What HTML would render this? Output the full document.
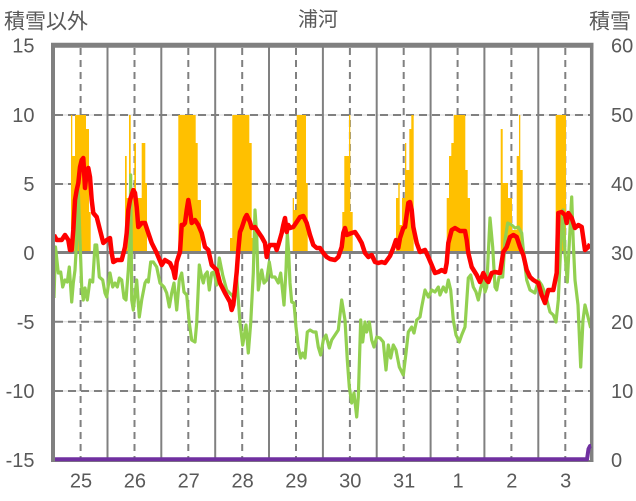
<!DOCTYPE html>
<html><head><meta charset="utf-8"><style>
html,body{margin:0;padding:0;background:#fff;}
svg{display:block;}
text{font-family:"Liberation Sans","Noto Sans CJK JP",sans-serif;fill:#595959;}
</style></head><body>
<svg width="636" height="501" viewBox="0 0 636 501" xmlns="http://www.w3.org/2000/svg">
<rect width="636" height="501" fill="#fff"/>
<!-- titles -->
<text x="4" y="28.5" font-size="21">積雪以外</text>
<text x="318" y="26" font-size="20" text-anchor="middle">浦河</text>
<text x="589" y="28.5" font-size="21">積雪</text>
<!-- left labels -->
<g font-size="20" text-anchor="end">
<text x="34.5" y="52.7">15</text>
<text x="34.5" y="122">10</text>
<text x="34.5" y="191">5</text>
<text x="34.5" y="260">0</text>
<text x="34.5" y="329">-5</text>
<text x="34.5" y="398">-10</text>
<text x="34.5" y="467">-15</text>
</g>
<g font-size="20">
<text x="611" y="52.7">60</text>
<text x="611" y="122">50</text>
<text x="611" y="191">40</text>
<text x="611" y="260">30</text>
<text x="611" y="329">20</text>
<text x="611" y="398">10</text>
<text x="611" y="467">0</text>
</g>
<g font-size="20" text-anchor="middle">
<text x="81" y="487.5">25</text>
<text x="134.9" y="487.5">26</text>
<text x="188.7" y="487.5">27</text>
<text x="242.6" y="487.5">28</text>
<text x="296.4" y="487.5">29</text>
<text x="350.3" y="487.5">30</text>
<text x="404.1" y="487.5">31</text>
<text x="458" y="487.5">1</text>
<text x="511.8" y="487.5">2</text>
<text x="565.7" y="487.5">3</text>
</g>
<!-- horizontal grid -->
<g stroke="#d9d9d9" stroke-width="1">
<line x1="55" y1="115" x2="590" y2="115"/>
<line x1="55" y1="184" x2="590" y2="184"/>
<line x1="55" y1="321.7" x2="590" y2="321.7"/>
<line x1="55" y1="391" x2="590" y2="391"/>
</g>
<g stroke="#808080" stroke-width="2" stroke-dasharray="8 5">
<line x1="55" y1="115" x2="590" y2="115"/>
<line x1="55" y1="184" x2="590" y2="184"/>
<line x1="55" y1="321.7" x2="590" y2="321.7"/>
<line x1="55" y1="391" x2="590" y2="391"/>
</g>
<!-- vertical grid -->
<g stroke="#808080" stroke-width="2">
<line x1="107.5" y1="47" x2="107.5" y2="460"/>
<line x1="161.3" y1="47" x2="161.3" y2="460"/>
<line x1="215.2" y1="47" x2="215.2" y2="460"/>
<line x1="269" y1="47" x2="269" y2="460"/>
<line x1="322.9" y1="47" x2="322.9" y2="460"/>
<line x1="376.7" y1="47" x2="376.7" y2="460"/>
<line x1="430.6" y1="47" x2="430.6" y2="460"/>
<line x1="484.4" y1="47" x2="484.4" y2="460"/>
<line x1="538.3" y1="47" x2="538.3" y2="460"/>
</g>
<g stroke="#808080" stroke-width="2" stroke-dasharray="7 5">
<line x1="80.6" y1="48" x2="80.6" y2="460"/>
<line x1="134.5" y1="48" x2="134.5" y2="460"/>
<line x1="188.3" y1="48" x2="188.3" y2="460"/>
<line x1="242.2" y1="48" x2="242.2" y2="460"/>
<line x1="296" y1="48" x2="296" y2="460"/>
<line x1="349.9" y1="48" x2="349.9" y2="460"/>
<line x1="403.7" y1="48" x2="403.7" y2="460"/>
<line x1="457.6" y1="48" x2="457.6" y2="460"/>
<line x1="511.4" y1="48" x2="511.4" y2="460"/>
<line x1="565.3" y1="48" x2="565.3" y2="460"/>
</g>
<!-- bars -->
<path fill="#FFC000" d="
M71,252V115H72.3V156H75V115H86V129H89V212H90.7V252Z
M125,252V156H126.7V198H129V115H130.7V198H134.3V143H136V198H141.7V143H145.3V183H147V252Z
M178.3,252V115H195.7V143H197.7V200H201V252Z
M230,252V238H232.3V115H249.3V143H251.7V238H253V252Z
M292.7,252V198H294V210H296.7V115H306V183H307.7V252Z
M342.3,252V212H344.3V156H349V115H350.3V212H352.7V252Z
M396,252V198H398.3V183H399.7V225H402V198H405V143H406.3V170H409.3V129H411.3V115H413.7V252Z
M446.7,252V198H449V156H451.3V143H453.7V115H465.3V170H467.7V198H470V252Z
M500.7,252V129H502.7V183H508V198H512V230H516.7V156H519V115H520.3V170H522.7V252Z
M555.7,252V115H566V252Z"/>
<!-- zero line -->
<line x1="55" y1="252.5" x2="590" y2="252.5" stroke="#808080" stroke-width="3"/>
<!-- green -->
<polyline fill="none" stroke="#92D050" stroke-width="3.2" stroke-linejoin="round" points="54,298 55.5,247 58.3,273 60.7,272 62.7,287 65,280 67.3,282 69.3,267 71.7,302 73.3,283 75,270 76.7,240 78.3,190 80,240 81.7,287 83.3,300 85,288 87.3,300 90,280 92.7,282 95,245 96.7,245 99.3,277 102.7,280 105,293 106.7,297 110,273 112.7,287 115,283 117.3,287 119.3,278 121.7,280 124,298 126,300 128.3,270 130,240 130.7,175 131.7,300 133.3,310 136.7,280 139.3,317 141.7,300 145,283 146.7,280 148.3,282 150.7,262 153.3,262 156.7,267 160,283 164,287 166.7,293 169.3,307 171.7,293 174,283 176.7,310 179.3,280 181.7,273 184,292 186.7,295 189.3,323 191.7,340 195,342 196.7,323 199.3,265 201.7,277 203.3,283 205,275 207.3,272 209.3,290 211.7,273 214,272 216.7,285 219.3,258 222.7,275 226.7,290 231.7,295 233.3,297 236.7,278 240,323 242.7,345 246,325 248.3,353 250.7,323 253.3,273 255,210 256.7,235 258.3,290 261.7,270 264,283 266.7,280 269.3,262 271.7,277 275,277 278.3,283 280.7,273 284,305 286,270 287.3,233 288.7,253 290,283 291.7,302 294,303 296,327 298.3,347 300.7,358 302.7,353 305,358 307.3,332 310,330 313.3,332 316,332 318.3,347 320.7,355 323.3,340 326,335 329.3,348 331.7,340 335,335 338.3,330 341.7,300 345,320 347.3,360 349.3,387 351.7,403 354,393 356.7,417 358.3,397 360.7,320 362.7,342 365,322 366.7,332 369.3,322 371.7,340 374,347 376.7,337 380,338 383.3,342 386,370 388.3,345 390.7,358 393.3,345 396,350 399.3,367 403.3,375 406,353 408.3,332 411.7,327 414,333 416.7,320 420,317 421.7,307 425,290 428.3,297 431.7,290 435,292 438.3,287 440,295 443.3,287 446,292 448.3,280 450.7,290 453.3,320 456,335 459.3,342 461.7,335 465,327 468.3,278 470.7,275 473.3,287 476,292 478.3,300 480.7,288 483.3,280 485,292 486.7,287 490,218 492.7,247 495,287 496.7,290 499,277 502.7,277 505,240 507.7,223 511.7,225 515,228 518.3,227 521.7,233 524,257 526.7,280 530,290 535,293 538.3,280 541.7,285 545,293 550,312 553.3,315 556,322 558.3,300 561,240 563,210 565,253 567.3,282 569.3,243 571.7,197 573.3,243 575,280 578,305 580.7,367 583,320 585,305 588,317 590.7,328"/>
<!-- red -->
<polyline fill="none" stroke="#FF0000" stroke-width="4.5" stroke-linejoin="round" points="54,235 56.7,240 61.7,240 65,235 68.3,240 70,250 71.7,250 73.3,230 75,200 76.7,190 78.3,183 80,167 81.7,160 83.3,158 85,188 86.7,172 88.3,168 90,177 91.7,200 93.3,213 96.7,217 100,230 103.3,243 106.7,240 110,238 111.7,253 113.3,262 116.7,260 121.7,260 125,247 126.7,233 128.3,210 130,200 133.3,190 135,193 136.7,207 138.3,227 141.7,223 145,223 148.3,233 151.7,243 156.7,253 161.7,265 165,260 170,263 173.3,270 175,278 176.7,262 178.3,257 180,252 181.7,225 183.3,225 185,223 186.7,210 188.3,200 190,210 191.7,223 195,220 198.3,225 201.7,233 205,247 208.3,250 211.7,265 216.7,270 220,283 225,293 230,302 231.7,310 233.3,305 236.7,272 238.3,250 240,232 241.7,228 245,218 246.7,215 250,222 251.7,228 255,227 258.3,232 261.7,237 265,243 266.7,257 268.3,248 270,245 275,245 276.7,250 278.3,245 281.7,233 283.3,225 285,218 286.7,232 288.3,225 290,228 293.3,227 296.7,222 300,217 303.3,216 306.7,223 310,235 313.3,245 316.7,248 320,248 323.3,253 326.7,257 330,259 335,260 338.3,257 341.7,247 343.3,233 345,228 346.7,235 351.7,233 355,232 358.3,237 361.7,243 365,253 368.3,257 371.7,255 375,262 378.3,263 381.7,262 385,263 390,256 393.3,248 396,240 398.3,248 400,238 403.3,228 405,227 408.3,203 410,202 411.7,210 413.3,227 416.7,243 420,252 425,250 428.3,257 431.7,265 435,273 438.3,272 441.7,270 445,272 446.7,263 448.3,243 451.7,230 455,228 460,231 465,231 466.7,240 468.3,253 471.7,267 476.7,275 480,282 483.3,273 486.7,280 488.3,282 491.7,273 495,272 500,273 503.3,252 506.7,247 510,237 513.3,235 516.7,237 520,247 523.3,255 526.7,270 530,277 533.3,280 538.3,283 541.7,295 545,303 548.3,290 553.3,290 556.7,273 558.3,213 561.7,212 565,215 566.7,223 568.3,213 571.7,218 575,228 578.3,225 581.7,227 585,250 588.3,247 590,244"/>
<!-- borders -->
<line x1="51" y1="461" x2="593.5" y2="461" stroke="#808080" stroke-width="2"/>
<line x1="53" y1="43" x2="53" y2="462" stroke="#808080" stroke-width="4"/>
<line x1="51" y1="45.2" x2="593.5" y2="45.2" stroke="#808080" stroke-width="5"/>
<line x1="591.7" y1="43" x2="591.7" y2="462" stroke="#808080" stroke-width="3.5"/>
<!-- purple -->
<polyline fill="none" stroke="#7030A0" stroke-width="4" stroke-linejoin="round" points="55,459.3 587,459.3 588.5,449 590,446 591,446"/>
</svg>
</body></html>
